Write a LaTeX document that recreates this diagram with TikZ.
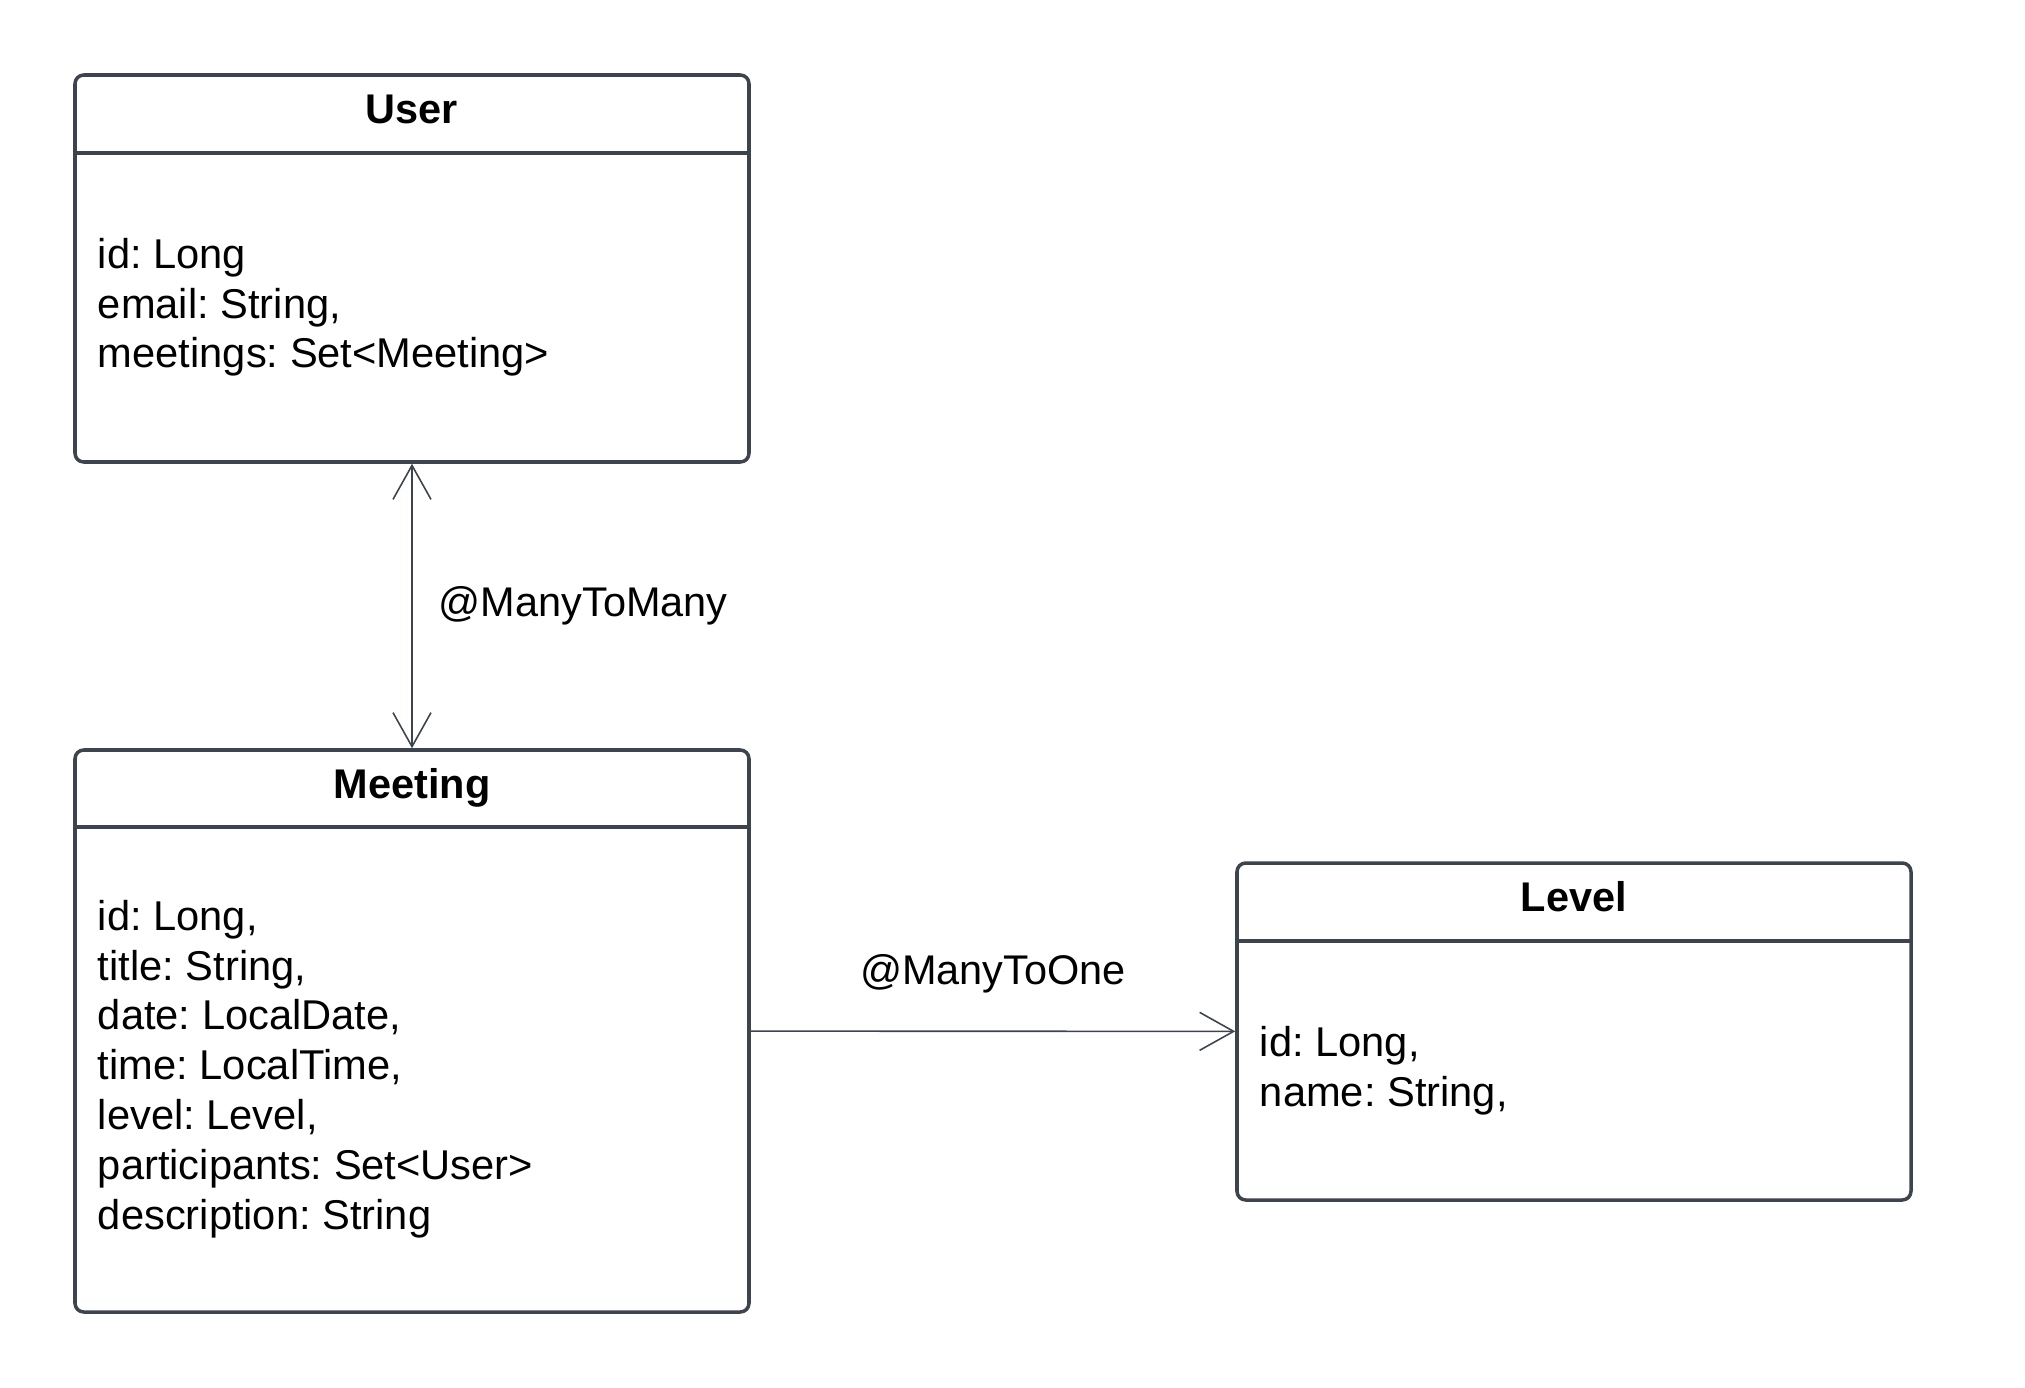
\documentclass[tikz,border=0pt]{standalone}
\usepackage{fontspec}
\setmainfont{Liberation Sans}
\usetikzlibrary{arrows.meta}
\definecolor{umlline}{HTML}{3D444D}
\frenchspacing

\begin{document}
\begin{tikzpicture}[
    cls/.style={draw=umlline, line width=1pt, rounded corners=2.5pt, minimum width=6.74cm, inner sep=0pt},
    head/.style={font=\fontsize{11.8}{14.2}\selectfont\bfseries, anchor=base, inner sep=0pt},
    attrs/.style={font=\fontsize{11.85}{14.2}\selectfont, align=left, anchor=north west, inner sep=0pt},
    sep/.style={draw=umlline, line width=1pt},
    rel/.style={draw=umlline, line width=0.45pt},
    tip/.tip={Straight Barb[length=3.4mm, width=3.8mm]},
    lbl/.style={font=\fontsize{11.8}{14.2}\selectfont, inner sep=0pt},
]
\useasboundingbox (0,0) rectangle (20.25,-13.88);

% Classes
\node[cls, minimum height=3.87cm] (user) at (4.12,-2.685) {};
\node[head] (userhead) at ([yshift=-0.50cm]user.north) {User};
\draw[sep] ([yshift=-0.8cm]user.north west) -- ([yshift=-0.8cm]user.north east);
\node[attrs] (userattrs) at ([xshift=0.24cm, yshift=-1.64cm]user.north west) {id: Long\\email: String,\\meetings: Set<Meeting>};

\node[cls, minimum height=5.62cm] (meeting) at (4.12,-10.31) {};
\node[head] (meetinghead) at ([yshift=-0.50cm]meeting.north) {Meeting};
\draw[sep] ([yshift=-0.79cm]meeting.north west) -- ([yshift=-0.79cm]meeting.north east);
\node[attrs] (meetingattrs) at ([xshift=0.24cm, yshift=-1.51cm]meeting.north west) {id: Long,\\title: String,\\date: LocalDate,\\time: LocalTime,\\level: Level,\\participants: Set<User>\\description: String};

\node[cls, minimum height=3.37cm] (level) at (15.74,-10.315) {};
\node[head] (levelhead) at ([yshift=-0.50cm]level.north) {Level};
\draw[sep] ([yshift=-0.8cm]level.north west) -- ([yshift=-0.8cm]level.north east);
\node[attrs] (levelattrs) at ([xshift=0.24cm, yshift=-1.64cm]level.north west) {id: Long,\\name: String,};

% Relations
\draw[rel, tip-tip] (user) -- node[lbl, midway, right=0.26cm] {@ManyToMany} (meeting);
\draw[rel, -tip] (meeting) -- node[lbl, midway, above=0.37cm] {@ManyToOne} (level);
\end{tikzpicture}
\end{document}
